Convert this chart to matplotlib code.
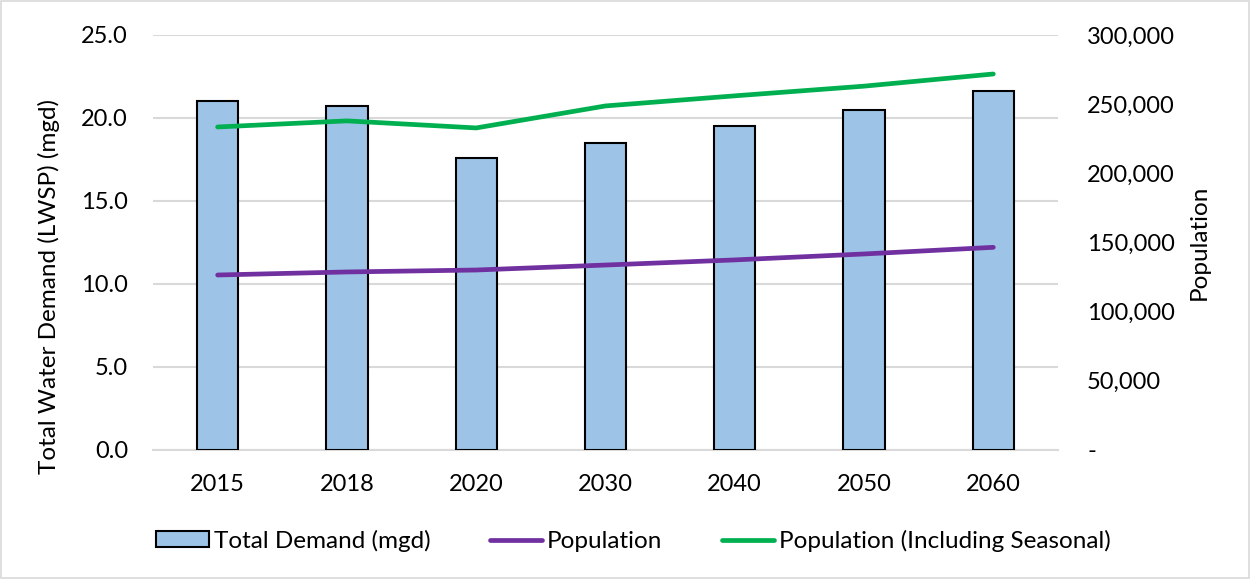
import matplotlib.pyplot as plt
from matplotlib.patches import Rectangle
from matplotlib.ticker import FuncFormatter

plt.rcParams['font.family'] = ['Lato', 'DejaVu Sans']

years = ['2015', '2018', '2020', '2030', '2040', '2050', '2060']
demand_mgd = [21.0, 20.7, 17.6, 18.5, 19.5, 20.5, 21.6]
population = [126500, 128700, 130100, 133700, 137400, 141700, 146500]
population_seasonal = [233500, 237900, 232800, 248700, 256000, 263000, 271800]

fig = plt.figure(figsize=(12.52, 5.79), dpi=100)
ax = fig.add_axes([0.1222, 0.2228, 0.7228, 0.7168])
ax2 = ax.twinx()

x = range(len(years))
bars = ax.bar(x, demand_mgd, width=0.32, color='#9DC3E6', edgecolor='black',
              linewidth=1.5, label='Total Demand (mgd)', zorder=3)
l1, = ax2.plot(x, population, color='#7030A0', lw=3.4, solid_capstyle='round',
               label='Population')
l2, = ax2.plot(x, population_seasonal, color='#00B050', lw=3.4, solid_capstyle='round',
               label='Population (Including Seasonal)')

ax.set_xlim(-0.5, len(years) - 0.5)
ax.set_ylim(0, 25)
ax.set_yticks([0, 5, 10, 15, 20, 25])
ax.yaxis.set_major_formatter(FuncFormatter(lambda v, p: f'{v:.1f}'))
ax.set_xticks(list(x))
ax.set_xticklabels(years)
ax.grid(axis='y', color='#D9D9D9', lw=1.5, zorder=0)
ax.set_axisbelow(True)

ax2.set_ylim(0, 300000)
ax2.set_yticks(range(0, 300001, 50000))
ax2.yaxis.set_major_formatter(FuncFormatter(lambda v, p: '-' if v == 0 else f'{int(v):,}'))

for a in (ax, ax2):
    for s in a.spines.values():
        s.set_visible(False)
    a.tick_params(length=0, labelsize=17, colors='black')
ax.spines['bottom'].set_visible(True)
ax.spines['bottom'].set_color('#D9D9D9')
ax.spines['bottom'].set_linewidth(1.5)
ax.tick_params(axis='x', pad=17)
ax.tick_params(axis='y', pad=18)
ax2.tick_params(axis='y', pad=21)

ax.set_ylabel('Total Water Demand (LWSP) (mgd)', fontsize=17.5)
ax.yaxis.set_label_coords(-0.103, 0.393)
ax2.set_ylabel('Population', fontsize=17.5, labelpad=10)

fig.legend(handles=[bars, l1, l2], loc='center', bbox_to_anchor=(0.506, 0.066),
           ncol=3, frameon=False, fontsize=17.5, handlelength=2.15, handleheight=0.65,
           handletextpad=0.2, columnspacing=2.45)

fig.patches.append(Rectangle((0.001, 0.002), 0.997, 0.996, transform=fig.transFigure,
                             fill=False, edgecolor='#D9D9D9', lw=1.2))

fig.savefig('out.png', dpi=100)
